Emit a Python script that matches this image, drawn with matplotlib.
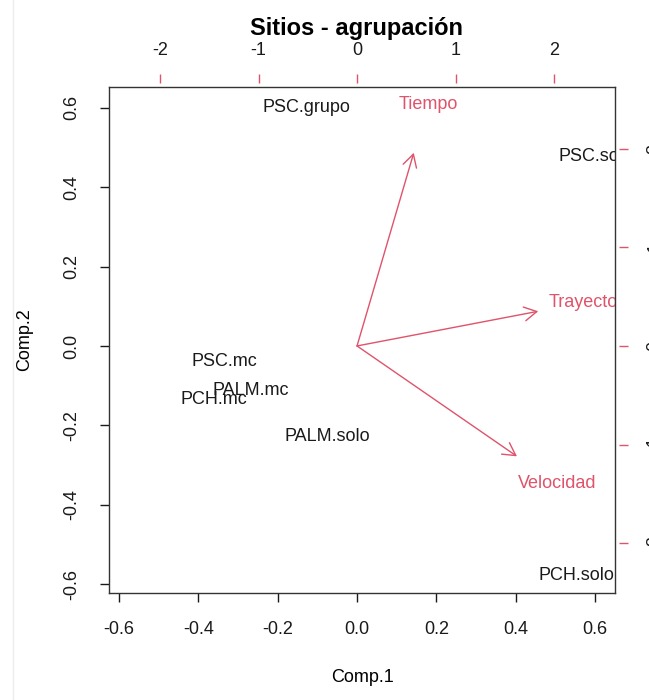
import matplotlib
matplotlib.use('Agg')
import matplotlib.pyplot as plt
from matplotlib.lines import Line2D

plt.rcParams['font.family'] = ['Liberation Sans', 'DejaVu Sans']

RED = '#DF536B'

# scores (Comp.1, Comp.2) -- main axes
sites = ['PSC.grupo', 'PSC.solo', 'PSC.mc', 'PALM.mc', 'PCH.mc', 'PALM.solo', 'PCH.solo']
comp1 = [-0.128, 0.602, -0.335, -0.267, -0.360, -0.076, 0.552]
comp2 = [0.600, 0.476, -0.038, -0.111, -0.134, -0.229, -0.577]

# loadings -- secondary axes
variables = ['Tiempo', 'Trayecto', 'Velocidad']
load1 = [0.72, 2.30, 2.03]
load2 = [2.45, 0.44, -1.40]

xticks = [-0.6, -0.4, -0.2, 0.0, 0.2, 0.4, 0.6]
yticks = [-0.6, -0.4, -0.2, 0.0, 0.2, 0.4, 0.6]
sec_ticks = [-2, -1, 0, 1, 2]

FS = 13
W, H = 649, 700
fig = plt.figure(figsize=(W / 100, H / 100), dpi=100)
pos = [109 / W, 1 - 593 / H, 506 / W, 506 / H]
ax = fig.add_axes(pos)

xlim = (-0.625, 0.650)
ylim = (-0.622, 0.652)
ratio = 4.03
ax.set_xlim(*xlim)
ax.set_ylim(*ylim)

for s, x, y in zip(sites, comp1, comp2):
    ax.text(x, y, s, ha='center', va='center', fontsize=FS, color='#1a1a1a', clip_on=True)

ax.set_xticks(xticks)
ax.set_xticklabels([f'{v:.1f}' for v in xticks])
ax.set_yticks(yticks)
ax.set_yticklabels([f'{v:.1f}' for v in yticks], rotation=90, va='center')
ax.tick_params(axis='both', direction='out', length=6.5, width=1, pad=14,
               labelsize=FS, colors='#1a1a1a')
for sp in ax.spines.values():
    sp.set_linewidth(1)
    sp.set_color('#333333')
ax.set_xlabel('Comp.1', fontsize=FS, labelpad=22)
ax.set_ylabel('Comp.2', fontsize=FS, labelpad=22)

# loadings axes on top of the same region
ax2 = fig.add_axes(pos)
ax2.patch.set_visible(False)
ax2.set_xlim(xlim[0] * ratio, xlim[1] * ratio)
ax2.set_ylim(ylim[0] * ratio, ylim[1] * ratio)
for k in ['left', 'bottom']:
    ax2.spines[k].set_visible(False)
for k in ['top', 'right']:
    ax2.spines[k].set_position(('outward', 3))
    ax2.spines[k].set_visible(False)
ax2.xaxis.tick_top()
ax2.yaxis.tick_right()
ax2.set_xticks(sec_ticks)
ax2.set_yticks(sec_ticks)
ax2.set_xticklabels([str(v) for v in sec_ticks])
ax2.set_yticklabels([str(v) for v in sec_ticks], rotation=90, va='center')
ax2.tick_params(axis='x', direction='out', length=6.5, width=1, pad=11,
                labelsize=FS, color=RED, labelcolor='#1a1a1a')
ax2.tick_params(axis='y', direction='out', length=6.5, width=1, pad=13,
                labelsize=FS, color=RED, labelcolor='#1a1a1a')

for v, x, y in zip(variables, load1, load2):
    ax2.annotate('', xy=(0.8 * x, 0.8 * y), xytext=(0, 0),
                 arrowprops=dict(arrowstyle='->,head_length=0.9,head_width=0.5',
                                 color=RED, lw=1, shrinkA=0, shrinkB=0))
    ax2.text(x, y, v, ha='center', va='center', fontsize=FS, color=RED, clip_on=True)

fig.text(357 / W, 1 - 28 / H, 'Sitios - agrupación', ha='center', va='center',
         fontsize=17, fontweight='bold')
fig.add_artist(Line2D([13 / W, 13 / W], [0, 1], color='#ececec', lw=1))

fig.savefig('out.png', dpi=100)
